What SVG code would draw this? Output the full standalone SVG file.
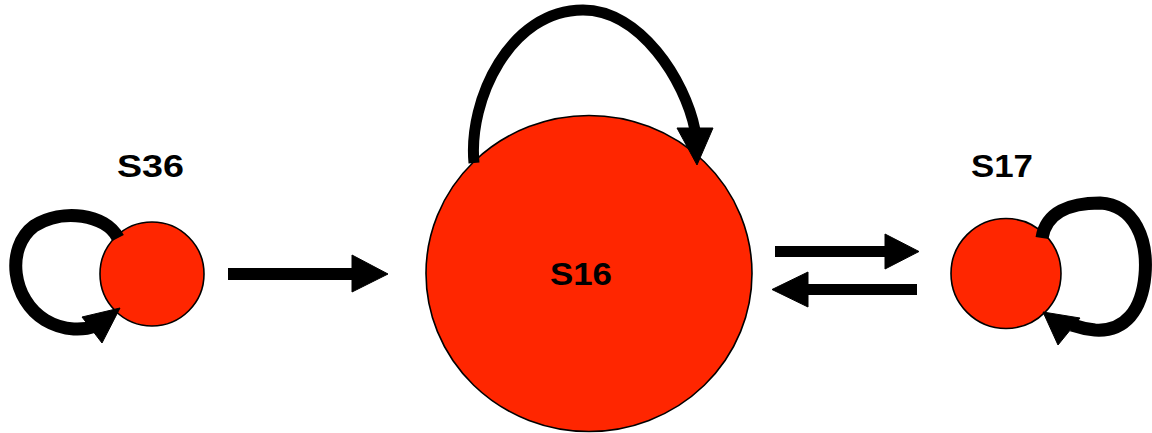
<svg xmlns="http://www.w3.org/2000/svg" width="1152" height="433" viewBox="0 0 1152 433">
<style>
.node{fill:#ff2600;stroke:#000;stroke-width:1.6}
.lbl{font-family:"Liberation Sans",Arial,sans-serif;font-weight:bold;font-size:32px;fill:#000;text-anchor:middle}
.edge{fill:none;stroke:#000;stroke-linecap:butt}
.head{fill:#000;stroke:#000;stroke-width:1;stroke-linejoin:round}
</style>
<rect width="1152" height="433" fill="#fff"/>
<g id="S36">
<circle class="node" cx="152" cy="274" r="52"/>
<text class="lbl" x="150.5" y="177" textLength="67" lengthAdjust="spacingAndGlyphs">S36</text>
</g>
<g id="S16">
<ellipse class="node" cx="589" cy="273.5" rx="163" ry="158"/>
<text class="lbl" x="581" y="285" textLength="62" lengthAdjust="spacingAndGlyphs">S16</text>
</g>
<g id="S17">
<circle class="node" cx="1006" cy="273.5" r="55"/>
<text class="lbl" x="1002" y="177" textLength="62" lengthAdjust="spacingAndGlyphs">S17</text>
</g>
<g id="connectors">
<path class="edge" stroke-width="13" d="M118,238 C106,214 62,208 34,226 C5,248 12,300 45,320 C65,332 85,330 95,326"/>
<polygon class="head" points="82,317 120,308 102,343"/>
<path class="edge" stroke-width="13" d="M1042,238 C1046,212 1070,203 1100,203 C1135,205 1148,240 1145,275 C1142,310 1125,332 1095,330 C1085,329 1078,327 1072,325"/>
<polygon class="head" points="1080,318 1043,312 1058,345"/>
<path class="edge" stroke-width="11" d="M474,163 C468,100 510,10 583,10 C640,10 685,80 695,130"/>
<polygon class="head" points="677,128 713,128 697,165"/>
<rect x="228" y="268" width="126" height="12"/>
<polygon class="head" points="352,255 388,274 352,292"/>
<rect x="775" y="246" width="112" height="11"/>
<polygon class="head" points="885,234 919,251.5 885,269"/>
<rect x="806" y="284" width="111" height="11"/>
<polygon class="head" points="808,272 772,289.5 808,307"/>
</g>
</svg>
